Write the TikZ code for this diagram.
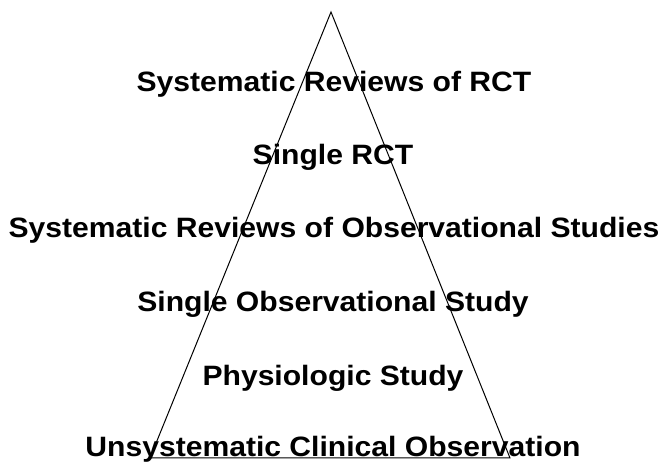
\documentclass[tikz,border=0pt]{standalone}
\usepackage{fontspec}
\setmainfont{Liberation Sans}
\newcommand{\wid}[1]{\scalebox{1.075}[1]{#1}}
\begin{document}
\begin{tikzpicture}[x=1pt,y=-1pt,
  lvl/.style={font=\bfseries\fontsize{28}{30}\selectfont, inner sep=0pt, anchor=center},
  edge/.style={draw=black, line width=1pt}]
\useasboundingbox (0,0) rectangle (665,465);
\node[lvl] (t1) at (334,84) {\wid{Systematic Reviews of RCT}};
\node[lvl] (t2) at (333,157) {\wid{Single RCT}};
\node[lvl] (t3) at (334,230) {\wid{Systematic Reviews of Observational Studies}};
\node[lvl] (t4) at (333,304) {\wid{Single Observational Study}};
\node[lvl] (t5) at (333,378) {\wid{Physiologic Study}};
\node[lvl] (t6) at (333,449) {\wid{Unsystematic Clinical Observation}};
\coordinate (apex) at (331,12);
\coordinate (bl) at (150,458);
\coordinate (br) at (510,458);
\draw[edge] (apex) -- (bl) -- (br) -- cycle;
\end{tikzpicture}
\end{document}
